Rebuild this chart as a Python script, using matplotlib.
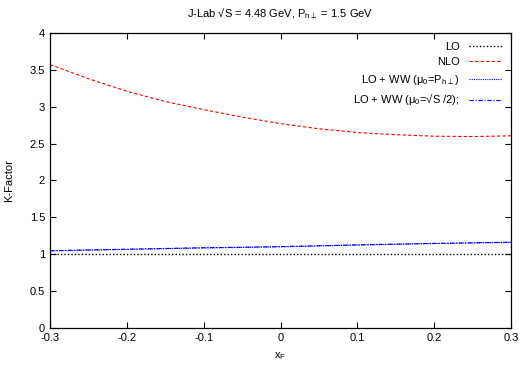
import matplotlib
matplotlib.use("Agg")
import matplotlib.pyplot as plt

plt.rcParams['font.family'] = ['Liberation Sans', 'DejaVu Sans']
plt.rcParams['mathtext.default'] = 'regular'

xf = [-0.3, -0.25, -0.2, -0.15, -0.1, -0.05, 0.0, 0.05, 0.1, 0.15, 0.2, 0.25, 0.3]
k_lo = [1.0] * len(xf)
k_nlo = [3.57, 3.38, 3.21, 3.07, 2.96, 2.86, 2.77, 2.70, 2.65, 2.62, 2.60, 2.595, 2.605]
k_ww_pt = [1.045, 1.055, 1.065, 1.075, 1.085, 1.092, 1.100, 1.112, 1.124, 1.134, 1.144, 1.152, 1.160]
k_ww_rs = [1.048, 1.058, 1.068, 1.078, 1.088, 1.095, 1.103, 1.115, 1.127, 1.137, 1.147, 1.155, 1.163]

fig = plt.figure(figsize=(5.29, 3.74), dpi=100)
ax = fig.add_axes([0.0945, 0.123, 0.8715, 0.789])

ax.plot(xf, k_lo, color='black', ls=(0, (1, 1.5)), lw=1.0, label='LO')
ax.plot(xf, k_nlo, color='#ff0000', ls=(0, (3, 2)), lw=0.8, label='NLO')
ax.plot(xf, k_ww_pt, color='#0000ff', ls=(0, (1, 1)), lw=0.8,
        label='LO + WW ($\\mu_0$=P$_{h\\perp}$)')
ax.plot(xf, k_ww_rs, color='#0000ff', ls=(0, (4, 1.5, 1, 1.5)), lw=0.8,
        label='LO + WW ($\\mu_0$=√S /2);')

ax.set_xlim(-0.3, 0.3)
ax.set_ylim(0, 4)
ax.set_xticks([-0.3, -0.2, -0.1, 0, 0.1, 0.2, 0.3])
ax.set_xticklabels(['-0.3', '-0.2', '-0.1', '0', '0.1', '0.2', '0.3'])
ax.set_yticks([0, 0.5, 1, 1.5, 2, 2.5, 3, 3.5, 4])
ax.set_yticklabels(['0', '0.5', '1', '1.5', '2', '2.5', '3', '3.5', '4'])
ax.tick_params(direction='in', top=True, right=True, labelsize=8, length=4, width=0.8)
for s in ax.spines.values():
    s.set_linewidth(0.9)

ax.set_xlabel('x$_F$', fontsize=8, labelpad=5)
ax.set_ylabel('K-Factor', fontsize=8, labelpad=11)
ax.set_title('J-Lab √S = 4.48 GeV, P$_{h\\perp}$ = 1.5 GeV', fontsize=8, pad=11)

ax.legend(loc='upper right', frameon=False, markerfirst=False, fontsize=8,
          handlelength=3.0, labelspacing=0.5, borderaxespad=0.4)

fig.savefig('out.png', dpi=100)
